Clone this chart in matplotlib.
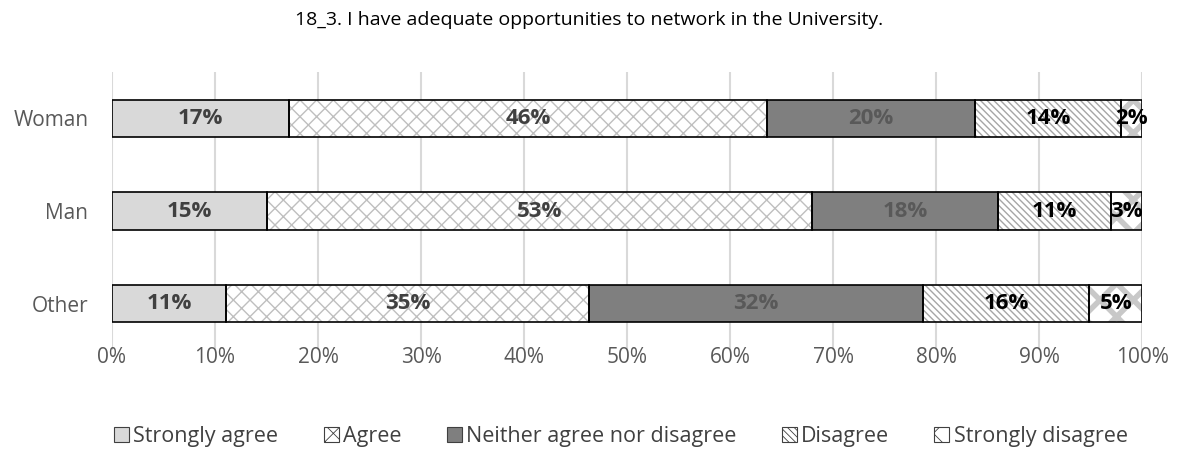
import numpy as np
import matplotlib
matplotlib.use("Agg")
import matplotlib.pyplot as plt
from matplotlib.patches import Patch

plt.rcParams["font.family"] = ["Open Sans", "DejaVu Sans"]

groups = ["Woman", "Man", "Other"]
responses = ["Strongly agree", "Agree", "Neither agree nor disagree",
             "Disagree", "Strongly disagree"]
woman = [17.2, 46.4, 20.2, 14.2, 2.0]
man = [15.0, 53.0, 18.0, 11.0, 3.0]
other = [11.1, 35.2, 32.4, 16.2, 5.1]
labels_woman = ["17%", "46%", "20%", "14%", "2%"]
labels_man = ["15%", "53%", "18%", "11%", "3%"]
labels_other = ["11%", "35%", "32%", "16%", "5%"]

values = np.array([woman, man, other])
labels = [labels_woman, labels_man, labels_other]

# fill, hatch, hatch colour, label colour per response
styles = [
    ("#d9d9d9", None, "#d9d9d9", "#404040"),
    ("white", "xx", "#bfbfbf", "#404040"),
    ("#7f7f7f", None, "#7f7f7f", "#595959"),
    ("white", "\\\\\\\\\\", "#a6a6a6", "black"),
    ("white", "X", "#c8c8c8", "black"),
]

fig = plt.figure(figsize=(11.78, 4.5), dpi=100)
ax = fig.add_axes([112 / 1178, 1 - 350 / 450, 1030 / 1178, 278 / 450])

y = np.arange(len(groups))
left = np.zeros(len(groups))
for j, (fc, hatch, hc, tc) in enumerate(styles):
    w = values[:, j]
    if hatch == "X":
        plt.rcParams["hatch.linewidth"] = 4
    else:
        plt.rcParams["hatch.linewidth"] = 1
    ax.barh(y, w, left=left, height=0.4, color=fc, hatch=hatch,
            edgecolor=hc, linewidth=0, zorder=2)
    ax.barh(y, w, left=left, height=0.4, fill=False,
            edgecolor="black", linewidth=1.2, zorder=3)
    for i in range(len(groups)):
        ax.text(left[i] + w[i] / 2, y[i], labels[i][j], ha="center",
                va="center", fontsize=16, fontweight="bold", color=tc,
                zorder=4)
    left += w

ax.set_xlim(0, 100)
ax.set_ylim(2.5, -0.5)
ax.set_yticks(y)
ax.set_yticklabels(groups)
ax.set_xticks(np.arange(0, 101, 10))
ax.set_xticklabels([f"{v}%" for v in range(0, 101, 10)])
ax.tick_params(length=0, labelsize=15, colors="#595959")
ax.tick_params(axis="x", pad=-2)
ax.tick_params(axis="y", pad=17)
ax.grid(axis="x", color="#d9d9d9", linewidth=1.5, zorder=0)
for s in ax.spines.values():
    s.set_visible(False)

fig.suptitle("18_3. I have adequate opportunities to network in the University.",
             y=0.975, fontsize=14, color="black")

handles = []
for (fc, hatch, hc, tc), name in zip(styles, responses):
    handles.append(Patch(facecolor=fc, hatch=hatch, edgecolor="#404040",
                         linewidth=0.8, label=name))
plt.rcParams["hatch.linewidth"] = 0.6
fig.legend(handles=handles, loc="center", bbox_to_anchor=(0.527, 0.03),
           ncol=5, frameon=False, fontsize=15.5, handlelength=0.7,
           handleheight=0.7, handletextpad=0.2, columnspacing=2.1,
           labelcolor="#404040")

fig.savefig("out.png", dpi=100)
